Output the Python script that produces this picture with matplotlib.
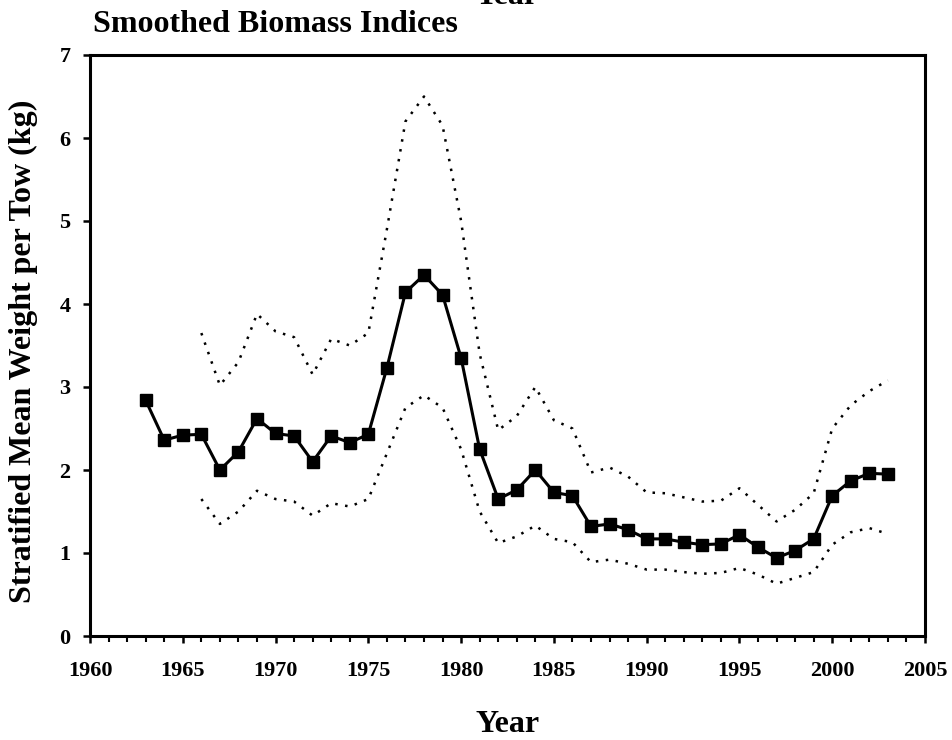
import matplotlib
matplotlib.use("Agg")
import matplotlib.pyplot as plt
from matplotlib.ticker import MultipleLocator

plt.rcParams['font.family'] = ['Liberation Serif', 'DejaVu Serif']
plt.rcParams['font.weight'] = 'bold'

years = list(range(1963, 2004))
index = [2.84, 2.36, 2.42, 2.43, 2.00, 2.22, 2.62, 2.44, 2.41, 2.10,
         2.41, 2.33, 2.43, 3.23, 4.14, 4.35, 4.11, 3.35, 2.25, 1.65,
         1.76, 2.00, 1.73, 1.69, 1.32, 1.35, 1.28, 1.17, 1.17, 1.13,
         1.10, 1.11, 1.22, 1.07, 0.94, 1.03, 1.17, 1.69, 1.87, 1.96, 1.95]

ci_years = list(range(1966, 2004))
upper = [3.65, 3.02, 3.30, 3.88, 3.67, 3.60, 3.15, 3.58, 3.50, 3.65,
         4.90, 6.20, 6.50, 6.15, 5.00, 3.40, 2.48, 2.65, 3.00, 2.60,
         2.50, 1.97, 2.03, 1.92, 1.73, 1.72, 1.67, 1.62, 1.63, 1.78,
         1.58, 1.38, 1.52, 1.72, 2.50, 2.78, 2.95, 3.08]
lower = [1.65, 1.35, 1.50, 1.75, 1.65, 1.62, 1.45, 1.60, 1.56, 1.65,
         2.20, 2.75, 2.90, 2.75, 2.25, 1.50, 1.12, 1.20, 1.33, 1.17,
         1.13, 0.89, 0.92, 0.87, 0.80, 0.80, 0.77, 0.75, 0.76, 0.82,
         0.74, 0.63, 0.70, 0.77, 1.10, 1.25, 1.30, 1.23]

fig = plt.figure(figsize=(9.53, 7.40), dpi=100)
ax = fig.add_axes([90/953, 1-636/740, (925-90)/953, (636-55)/740])

ax.plot(ci_years, upper, color='black', lw=1.8, linestyle=(0, (1, 3)))
ax.plot(ci_years, lower, color='black', lw=1.8, linestyle=(0, (1, 3)))
ax.plot(years, index, color='black', lw=2.2, marker='s', markersize=8,
        markerfacecolor='black', markeredgecolor='black')

ax.set_xlim(1960, 2005)
ax.set_ylim(0, 7)
ax.xaxis.set_major_locator(MultipleLocator(5))
ax.xaxis.set_minor_locator(MultipleLocator(1))
ax.yaxis.set_major_locator(MultipleLocator(1))

for s in ax.spines.values():
    s.set_linewidth(2.2)
ax.tick_params(axis='both', which='major', direction='out', length=5, width=1.8,
               labelsize=16)
ax.tick_params(axis='x', which='major', pad=13)
ax.tick_params(axis='y', which='major', pad=9)
ax.tick_params(axis='x', which='minor', direction='out', length=4, width=1.5)
for lab in ax.get_xticklabels() + ax.get_yticklabels():
    lab.set_fontweight('bold')

ax.set_xlabel('Year', fontsize=23, fontweight='bold')
ax.xaxis.set_label_coords(0.5, -0.127)
ax.set_ylabel('Stratified Mean Weight per Tow (kg)', fontsize=23, fontweight='bold')
ax.yaxis.set_label_coords(-0.062, 0.49)

fig.text(93/953, 1-32/740, 'Smoothed Biomass Indices', fontsize=23, fontweight='bold',
         ha='left', va='baseline')
fig.text(507/953, 1-4.5/740, 'Year', fontsize=23, fontweight='bold', ha='center', va='baseline')

fig.savefig('out.png', dpi=100)
